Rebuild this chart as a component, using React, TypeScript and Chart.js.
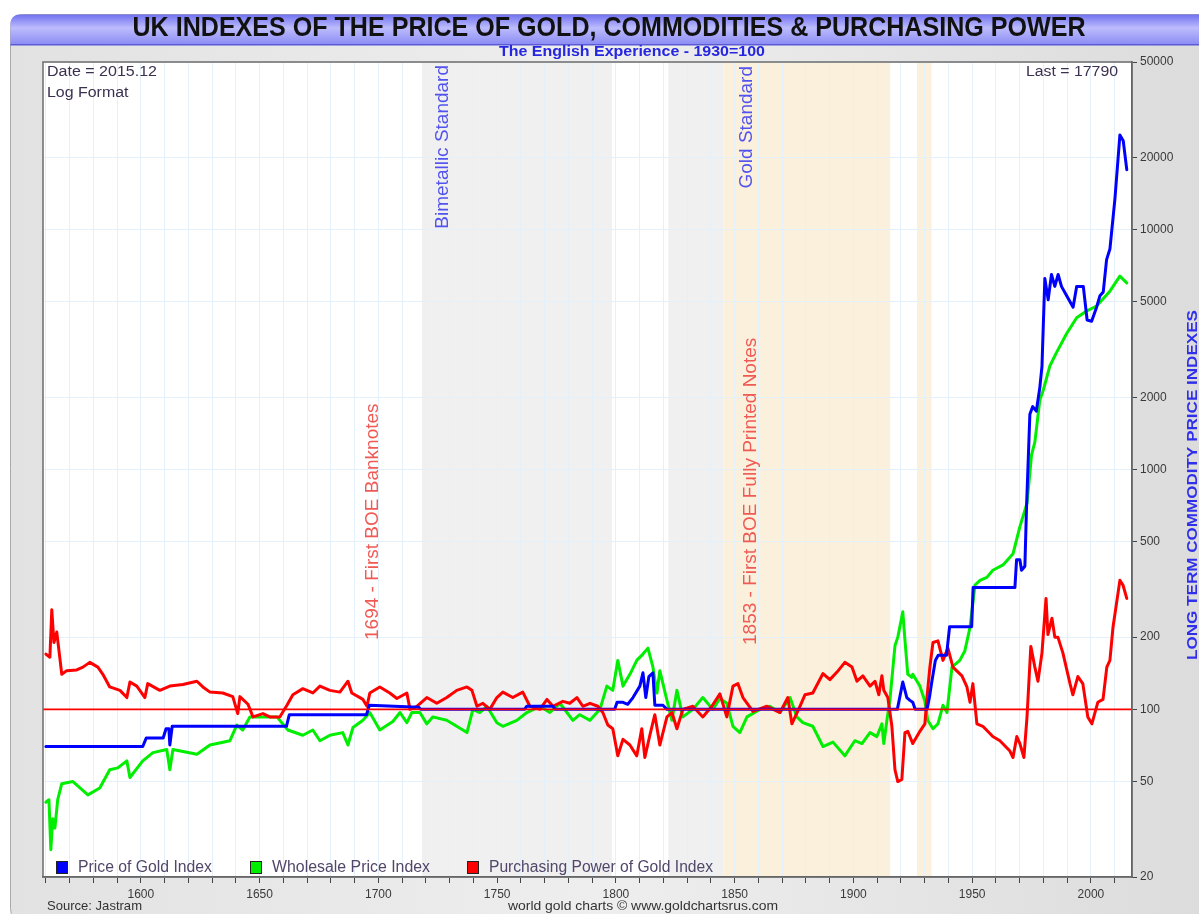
import React, { useEffect, useRef } from 'react';
import { Chart, registerables } from 'chart.js';

Chart.register(...registerables);

const W = 1199;
const H = 914;
const SANS = '"Liberation Sans", Arial, Helvetica, sans-serif';
const NARROW = '"Liberation Sans Narrow", "Liberation Sans", Arial, sans-serif';

// ---------- tick labels ----------
const xTickYears = [1560, 1570, 1580, 1590, 1600, 1610, 1620, 1630, 1640, 1650, 1660, 1670, 1680, 1690, 1700, 1710, 1720, 1730, 1740, 1750, 1760, 1770, 1780, 1790, 1800, 1810, 1820, 1830, 1840, 1850, 1860, 1870, 1880, 1890, 1900, 1910, 1920, 1930, 1940, 1950, 1960, 1970, 1980, 1990, 2000, 2010];
const xLabelYears = [1600, 1650, 1700, 1750, 1800, 1850, 1900, 1950, 2000];
const yTickValues = [20, 50, 100, 200, 500, 1000, 2000, 5000, 10000, 20000, 50000];

// ---------- series ----------
const seriesNames = ['Price of Gold Index', 'Wholesale Price Index', 'Purchasing Power of Gold Index'];

const goldYears = [
  1560, 1600.8, 1602.3, 1609.4, 1610.6, 1611.8, 1612.2, 1613.2, 1661.3, 1662.5,
  1695, 1696.2, 1717, 1717.8, 1761.5, 1762.5, 1773.5, 1774.5, 1797, 1799.5,
  1800.5, 1803, 1805, 1807.2, 1810.1, 1811.4, 1812.6, 1813.9, 1815.6, 1816.4,
  1819.8, 1821.5, 1918.5, 1920.8, 1922.5, 1923.8, 1925, 1926, 1931, 1932,
  1933, 1934.5, 1935.7, 1939.2, 1940.5, 1949.8, 1950.4, 1968, 1968.7, 1970.1,
  1970.8, 1972.2, 1972.9, 1974.3, 1975.5, 1977, 1978.5, 1979.4, 1980.6, 1982,
  1983.4, 1984.8, 1986.2, 1987.6, 1989.8, 1992.5, 1994, 1996.8, 1998.4, 2000.3,
  2002.4, 2003.8, 2005.2, 2006.6, 2008, 2010.1, 2012.2, 2013.6, 2015.1,
];
const goldValues = [
  70, 70, 76, 76, 83, 83, 71, 85, 85, 95,
  95, 104, 102, 100, 100, 103, 103, 100, 100, 100,
  107, 107, 105, 112, 125, 142, 112, 137, 142, 104,
  104, 100, 100, 130, 112, 109, 107, 100, 100, 112,
  130, 160, 168, 168, 221, 221, 322, 322, 420, 420,
  380, 395, 700, 1700, 1830, 1750, 2200, 2700, 6250, 5100,
  6500, 5800, 6500, 5800, 5300, 4750, 5800, 5800, 4200, 4150,
  4750, 5300, 5500, 7500, 8300, 13400, 24800, 23500, 17790,
];

const wholesaleYears = [
  1560, 1561.3, 1562.1, 1562.9, 1563.8, 1565, 1566.7, 1571.4, 1577.7, 1582.7,
  1586.9, 1590.3, 1594.1, 1595.4, 1600.8, 1605.1, 1610.9, 1612.2, 1613.5, 1623.6,
  1629.1, 1637.5, 1640.4, 1642.9, 1645.9, 1650.1, 1657.3, 1661.9, 1668.2, 1672.4,
  1675.4, 1679.6, 1685, 1687.2, 1689.3, 1693.5, 1696.4, 1700.6, 1706.1, 1709.1,
  1712, 1714.1, 1717.5, 1720.4, 1722.9, 1728.8, 1733, 1737.3, 1739.8, 1742.7,
  1745.7, 1749.9, 1752.4, 1758.3, 1762.5, 1768, 1772.2, 1776.4, 1779.4, 1781.9,
  1784.8, 1789.1, 1793.3, 1796.2, 1798.7, 1800.8, 1803, 1805.9, 1808.8, 1811.4,
  1813.5, 1815.6, 1817.3, 1818.5, 1821.5, 1823.6, 1825.7, 1828.2, 1832.4, 1836.6,
  1840.8, 1843.8, 1846.7, 1849.3, 1852.2, 1855.2, 1860.6, 1864.8, 1869.1, 1873.3,
  1876.2, 1878.7, 1882.9, 1887.2, 1891.4, 1896.4, 1900.6, 1903.6, 1907, 1909.9,
  1912, 1912.8, 1914.1, 1915.4, 1917.5, 1918.7, 1920.8, 1921.7, 1922.9, 1924.6,
  1925, 1928, 1930.1, 1931.3, 1933.5, 1935.6, 1937.7, 1939.4, 1941.5, 1944.8,
  1946.9, 1949.1, 1951.2, 1953.3, 1956.2, 1958.7, 1963, 1967.2, 1970.1, 1973.1,
  1975, 1976.4, 1978.5, 1980, 1982.7, 1985.5, 1989.8, 1994, 1998.2, 2002.4,
  2008, 2012.2, 2015.1,
];
const wholesaleValues = [
  41, 42, 26, 35, 32, 42, 49, 50, 44, 47,
  56, 57, 61, 52, 61, 66, 68, 56, 68, 65,
  71, 74, 86, 82, 93, 93, 93, 82, 78, 82,
  74, 78, 80, 71, 84, 90, 97, 82, 89, 97,
  88, 97, 97, 87, 93, 90, 85, 80, 100, 97,
  103, 88, 85, 90, 97, 103, 97, 106, 97, 90,
  95, 90, 100, 125, 120, 160, 125, 140, 160, 170,
  180, 150, 117, 145, 109, 90, 120, 93, 100, 112,
  100, 111, 106, 85, 80, 93, 100, 103, 97, 112,
  93, 88, 85, 70, 73, 64, 74, 72, 80, 77,
  87, 72, 90, 110, 184, 200, 255, 195, 140, 136,
  140, 125, 108, 90, 83, 87, 104, 97, 150, 160,
  175, 220, 330, 345, 355, 380, 400, 445, 578, 723,
  1150, 1300, 1950, 2150, 2700, 3070, 3690, 4290, 4580, 4800,
  5540, 6400, 6000,
];

const powerYears = [
  1560, 1561.7, 1562.5, 1563.4, 1564.6, 1566.7, 1568.8, 1573, 1575.6, 1578.5,
  1581.9, 1584, 1586.9, 1591.2, 1594.1, 1595.4, 1598.3, 1601.7, 1602.9, 1608,
  1612.2, 1617.7, 1623.6, 1626.1, 1629.1, 1634.5, 1638.7, 1640.8, 1641.7, 1645.1,
  1647.2, 1651.4, 1654.3, 1658.5, 1661.5, 1664, 1668.2, 1672.4, 1675.4, 1679.6,
  1683.8, 1687.2, 1688.8, 1693.5, 1695.2, 1696.4, 1700.6, 1704.8, 1707.8, 1712,
  1713.3, 1716.2, 1720.4, 1724.6, 1728.8, 1733, 1737.3, 1739.4, 1741.5, 1744,
  1746.9, 1749.9, 1752.4, 1756.6, 1760.8, 1763.8, 1768, 1771, 1773.5, 1777.7,
  1780.6, 1783.6, 1786.1, 1789.1, 1792.4, 1794.5, 1796.6, 1798.7, 1800.8, 1803,
  1805.9, 1808.8, 1810.9, 1812.2, 1814.3, 1816.4, 1818.5, 1821.5, 1823.6, 1825.7,
  1828.2, 1832.4, 1836.6, 1840.4, 1843.8, 1846.7, 1849.3, 1851.4, 1853.5, 1857.7,
  1863.6, 1869.1, 1872.4, 1874.1, 1877.5, 1879.6, 1882.9, 1887.2, 1890.1, 1893.1,
  1896.4, 1899.4, 1901.5, 1904, 1907, 1909.1, 1910.7, 1912, 1912.8, 1914.5,
  1916.2, 1917.5, 1918.7, 1920.4, 1921.7, 1922.9, 1925, 1928, 1930.1, 1930.9,
  1932.2, 1933.5, 1935.6, 1937.7, 1939.8, 1941.9, 1945.7, 1947.8, 1949.1, 1950.3,
  1952, 1954.5, 1958.7, 1961.7, 1965.9, 1967.2, 1968.8, 1970.1, 1971.8, 1973.1,
  1974.7, 1976.4, 1977.7, 1979.4, 1981.1, 1981.9, 1983.6, 1984.8, 1986.1, 1988.2,
  1991.2, 1992.4, 1994.5, 1996.6, 1998.7, 2000.4, 2002.9, 2005.1, 2006.7, 2008,
  2009.3, 2012.2, 2013.5, 2015.1,
];
const powerValues = [
  170, 165, 260, 190, 210, 140, 145, 146, 150, 157,
  150, 140, 124, 120, 112, 130, 125, 112, 128, 120,
  125, 127, 131, 124, 118, 117, 113, 96, 113, 105,
  93, 96, 93, 93, 104, 115, 122, 117, 125, 120,
  118, 131, 117, 110, 103, 117, 124, 117, 111, 117,
  100, 103, 112, 106, 112, 120, 124, 120, 103, 106,
  100, 112, 118, 112, 118, 103, 100, 110, 103, 108,
  106, 112, 103, 106, 103, 97, 86, 83, 64, 75,
  71, 64, 83, 63, 78, 95, 71, 93, 97, 83,
  100, 103, 93, 103, 116, 93, 125, 128, 112, 98,
  103, 97, 112, 87, 103, 115, 117, 141, 133, 143,
  157, 150, 131, 138, 125, 131, 115, 138, 120, 112,
  85, 56, 50, 51, 80, 81, 72, 81, 87, 110,
  150, 190, 193, 160, 180, 150, 138, 124, 107, 128,
  87, 85, 77, 74, 67, 63, 77, 72, 63, 93,
  183, 150, 131, 172, 290, 205, 240, 200, 200, 172,
  128, 115, 137, 128, 93, 87, 107, 110, 150, 160,
  220, 345, 330, 290,
];

const referenceLevel = 100;

// monetary regime bands (years)
const bandStarts = [1718.3, 1822.1, 1845.2, 1926.8];
const bandEnds = [1798.3, 1845.2, 1915.5, 1932.9];
const bandKinds = ['bimetal', 'bimetal', 'gold', 'gold'];

// vertical annotations
const noteTexts = ['Bimetallic Standard', 'Gold Standard', '1694 - First BOE Banknotes', '1853 - First BOE Fully Printed Notes'];
const noteYears = [1718.3, 1845.2, 1694, 1853];

// ---------- styles ----------
const COLORS = { gold: '#0000ff', wholesale: '#00ee00', power: '#ff0000' };
const BAND_FILL: Record<string, string> = { bimetal: '#f0f0f0', gold: '#faf0dc' };
const GRID = '#e4f0fa';

function fitText(ctx: any, text: string, x: number, y: number, width: number, font: string, color: string, align: string, rotate = 0) {
  ctx.save();
  ctx.font = font;
  ctx.fillStyle = color;
  ctx.textBaseline = 'middle';
  ctx.textAlign = align;
  const m = ctx.measureText(text).width || 1;
  ctx.translate(x, y);
  if (rotate) ctx.rotate(rotate);
  ctx.scale(width / m, 1);
  ctx.fillText(text, 0, 0);
  ctx.restore();
}

function plainText(ctx: any, text: string, x: number, y: number, font: string, color: string, align: string, rotate = 0) {
  ctx.save();
  ctx.font = font;
  ctx.fillStyle = color;
  ctx.textBaseline = 'middle';
  ctx.textAlign = align;
  ctx.translate(x, y);
  if (rotate) ctx.rotate(rotate);
  ctx.fillText(text, 0, 0);
  ctx.restore();
}

function roundRectPath(ctx: any, x: number, y: number, w: number, h: number, r: number) {
  ctx.beginPath();
  ctx.moveTo(x + r, y);
  ctx.lineTo(x + w - r, y);
  ctx.quadraticCurveTo(x + w, y, x + w, y + r);
  ctx.lineTo(x + w, y + h - r);
  ctx.quadraticCurveTo(x + w, y + h, x + w - r, y + h);
  ctx.lineTo(x + r, y + h);
  ctx.quadraticCurveTo(x, y + h, x, y + h - r);
  ctx.lineTo(x, y + r);
  ctx.quadraticCurveTo(x, y, x + r, y);
  ctx.closePath();
}

const backgroundPlugin = {
  id: 'backgroundPlugin',
  beforeDraw(chart: any) {
    const ctx = chart.ctx;
    const { left, top, right, bottom } = chart.chartArea;
    ctx.save();
    ctx.fillStyle = '#ffffff';
    ctx.fillRect(0, 0, W, H);
    // panel
    const pg = ctx.createLinearGradient(10, 0, W, 0);
    pg.addColorStop(0, '#e2e2e2');
    pg.addColorStop(0.5, '#eeeeee');
    pg.addColorStop(1, '#dcdcdc');
    roundRectPath(ctx, 10.5, 14.5, 1240, 906, 12);
    ctx.fillStyle = pg;
    ctx.fill();
    ctx.strokeStyle = '#a9a9a9';
    ctx.lineWidth = 1;
    ctx.stroke();
    // banner
    const bg = ctx.createLinearGradient(0, 14, 0, 45);
    bg.addColorStop(0, '#6e6ef0');
    bg.addColorStop(0.45, '#bcbcfd');
    bg.addColorStop(1, '#8a8af4');
    ctx.beginPath();
    ctx.moveTo(10.5, 45);
    ctx.lineTo(10.5, 24);
    ctx.quadraticCurveTo(10.5, 14.5, 20.5, 14.5);
    ctx.lineTo(W + 20, 14.5);
    ctx.lineTo(W + 20, 45);
    ctx.closePath();
    ctx.fillStyle = bg;
    ctx.fill();
    ctx.fillStyle = '#5a5ad6';
    ctx.fillRect(10.5, 44, W, 1.5);
    // plot area
    ctx.fillStyle = '#ffffff';
    ctx.fillRect(left, top, right - left, bottom - top);
    const xs = chart.scales.x;
    for (let i = 0; i < bandStarts.length; i++) {
      const x0 = xs.getPixelForValue(bandStarts[i]);
      const x1 = xs.getPixelForValue(bandEnds[i]);
      ctx.fillStyle = BAND_FILL[bandKinds[i]];
      ctx.fillRect(x0, top, x1 - x0, bottom - top);
    }
    ctx.restore();
  },
  beforeDatasetsDraw(chart: any) {
    const ctx = chart.ctx;
    const xs = chart.scales.x;
    const font = `19px ${SANS}`;
    const up = -Math.PI / 2;
    // blue regime labels, top-anchored
    plainText(ctx, noteTexts[0], xs.getPixelForValue(noteYears[0]) + 21, 65, font, '#5252ee', 'right', up);
    plainText(ctx, noteTexts[1], xs.getPixelForValue(noteYears[1]) + 24, 66, font, '#5252ee', 'right', up);
    // red banknote labels, bottom-anchored
    plainText(ctx, noteTexts[2], xs.getPixelForValue(noteYears[2]) + 9, 640, font, '#f05a55', 'left', up);
    plainText(ctx, noteTexts[3], xs.getPixelForValue(noteYears[3]) + 9, 645, font, '#f05a55', 'left', up);
  },
  afterDatasetsDraw(chart: any) {
    const ctx = chart.ctx;
    const { left, right } = chart.chartArea;
    const y = chart.scales.y.getPixelForValue(referenceLevel);
    ctx.save();
    ctx.globalAlpha = 1;
    ctx.setLineDash([]);
    ctx.strokeStyle = 'rgb(255, 0, 0)';
    ctx.lineWidth = 1.6;
    ctx.beginPath();
    ctx.moveTo(left, y);
    ctx.lineTo(right, y);
    ctx.stroke();
    ctx.restore();
  },
  afterDraw(chart: any) {
    const ctx = chart.ctx;
    const { left, top, right, bottom } = chart.chartArea;
    ctx.save();
    ctx.strokeStyle = '#6c6c6c';
    ctx.lineWidth = 1.5;
    ctx.strokeRect(left, top, right - left, bottom - top);
    ctx.restore();

    // titles
    fitText(ctx, 'UK INDEXES OF THE PRICE OF GOLD, COMMODITIES & PURCHASING POWER', 609, 28.5, 953, `bold 28px ${NARROW}`, '#111111', 'center');
    fitText(ctx, 'The English Experience - 1930=100', 632, 52, 266, `bold 15px ${NARROW}`, '#2626e0', 'center');

    // in-plot texts
    fitText(ctx, 'Date = 2015.12', 47, 71.5, 110, `15.5px ${SANS}`, '#3c3050', 'left');
    fitText(ctx, 'Log Format', 47, 93, 81.5, `15.5px ${SANS}`, '#3c3050', 'left');
    fitText(ctx, 'Last = 17790', 1118, 71.5, 92, `15.5px ${SANS}`, '#3c3050', 'right');

    // legend
    const legendX = [56, 250, 467];
    const legendTextW = [134, 158, 224];
    const legendColors = [COLORS.gold, COLORS.wholesale, COLORS.power];
    for (let i = 0; i < seriesNames.length; i++) {
      ctx.save();
      ctx.fillStyle = legendColors[i];
      ctx.fillRect(legendX[i], 861.5, 12, 12);
      ctx.strokeStyle = '#222222';
      ctx.lineWidth = 1;
      ctx.strokeRect(legendX[i] + 0.5, 861.5, 11, 12);
      ctx.restore();
      fitText(ctx, seriesNames[i], legendX[i] + 22, 867.5, legendTextW[i], `16px ${SANS}`, '#52466a', 'left');
    }

    // right axis title
    fitText(ctx, 'LONG TERM COMMODITY PRICE INDEXES', 1192.5, 485, 350, `bold 15px ${SANS}`, '#3030ec', 'center', -Math.PI / 2);

    // footer
    fitText(ctx, 'Source: Jastram', 47, 906, 95, `13px ${SANS}`, '#333333', 'left');
    fitText(ctx, 'world gold charts \u00a9 www.goldchartsrus.com', 643, 906, 270, `13px ${SANS}`, '#333333', 'center');
  },
};

export default function App() {
  const canvasRef = useRef<HTMLCanvasElement | null>(null);

  useEffect(() => {
    const canvas = canvasRef.current;
    if (!canvas) return;
    const toPoints = (xs: number[], ys: number[]) => xs.map((x, i) => ({ x, y: ys[i] }));
    const chart = new Chart(canvas, {
      type: 'line',
      data: {
        datasets: [
          { label: seriesNames[0], data: toPoints(goldYears, goldValues), borderColor: COLORS.gold, backgroundColor: COLORS.gold },
          { label: seriesNames[2], data: toPoints(powerYears, powerValues), borderColor: COLORS.power, backgroundColor: COLORS.power },
          { label: seriesNames[1], data: toPoints(wholesaleYears, wholesaleValues), borderColor: COLORS.wholesale, backgroundColor: COLORS.wholesale },
        ],
      },
      options: {
        responsive: false,
        maintainAspectRatio: false,
        animation: false,
        devicePixelRatio: 1,
        events: [],
        layout: { padding: { left: 43, top: 62, right: 0, bottom: 0 } },
        elements: {
          point: { radius: 0, hoverRadius: 0 },
          line: { borderWidth: 3, tension: 0, borderJoinStyle: 'round', borderCapStyle: 'round', fill: false },
        },
        plugins: { legend: { display: false }, tooltip: { enabled: false }, title: { display: false } },
        scales: {
          x: {
            type: 'linear',
            position: 'bottom',
            min: 1558.8,
            max: 2017.3,
            afterBuildTicks: (axis: any) => { axis.ticks = xTickYears.map((v) => ({ value: v })); },
            afterFit: (axis: any) => { axis.height = 37; },
            ticks: {
              autoSkip: false,
              maxRotation: 0,
              minRotation: 0,
              padding: 4,
              color: '#3a3a3a',
              font: { family: SANS, size: 12 },
              callback: (v: any) => (xLabelYears.includes(Number(v)) ? String(v) : ''),
            },
            grid: { color: GRID, lineWidth: 1, tickLength: 6, tickColor: '#444444', drawTicks: true },
            border: { display: true, color: '#555555', width: 1.5 },
          },
          y: {
            type: 'logarithmic',
            position: 'right',
            min: 20,
            max: 50000,
            afterBuildTicks: (axis: any) => { axis.ticks = yTickValues.map((v) => ({ value: v })); },
            afterFit: (axis: any) => { axis.width = 67; },
            ticks: {
              autoSkip: false,
              padding: 3,
              color: '#3a3a3a',
              font: { family: SANS, size: 12 },
              callback: (v: any) => String(v),
            },
            grid: { color: GRID, lineWidth: 1, tickLength: 5, tickColor: '#444444', drawTicks: true },
            border: { display: true, color: '#555555', width: 1.5 },
          },
        },
      } as any,
      plugins: [backgroundPlugin],
    });
    return () => chart.destroy();
  }, []);

  return (
    <div style={{ position: 'fixed', left: 0, top: 0, width: W, height: H, overflow: 'hidden', background: '#ffffff' }}>
      <canvas ref={canvasRef} width={W} height={H} style={{ display: 'block', width: W, height: H }} />
    </div>
  );
}
